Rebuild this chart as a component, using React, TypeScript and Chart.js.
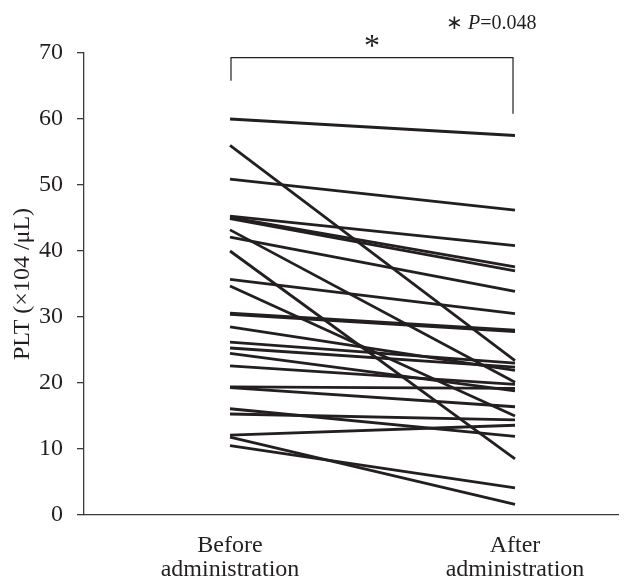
import React, { useEffect, useRef } from 'react';
import { Chart, registerables } from 'chart.js';

Chart.register(...registerables);

// ---- data ----
const groupLabels: string[][] = [
  ['Before', 'administration'],
  ['After', 'administration'],
];
const before: number[] = [
  60.0, 56.0, 50.9, 45.3, 45.1, 44.9, 43.2, 42.1, 40.0, 35.7, 34.7, 30.6, 30.4,
  28.5, 26.2, 25.3, 24.5, 22.6, 19.4, 19.3, 16.1, 15.3, 12.1, 11.8, 10.5,
];
const after: number[] = [
  57.5, 23.4, 46.2, 40.8, 37.6, 37.0, 20.1, 33.9, 8.5, 30.5, 15.0, 28.0, 27.8,
  21.9, 23.0, 22.4, 18.8, 19.8, 19.2, 16.4, 11.9, 14.4, 13.6, 1.6, 4.1,
];
const yTicks: number[] = [0, 10, 20, 30, 40, 50, 60, 70];
const yTitle = 'PLT (×104 /μL)';
const sigMark = '*';
const pLabel = 'P';
const pValue = '=0.048';

const FONT = "'Liberation Serif', 'Times New Roman', Times, serif";
const INK = '#231f20';
const AXIS = '#3a3a3a';

export default function App() {
  const ref = useRef<HTMLCanvasElement>(null);

  useEffect(() => {
    document.body.style.margin = '0';
    const canvas = ref.current;
    if (!canvas) return;

    const annot = {
      id: 'annot',
      afterDraw(chart: any) {
        const { ctx } = chart;
        const x = chart.scales.x;
        const y = chart.scales.y;
        const x0 = x.getPixelForValue(0) + 1;
        const x1 = x.getPixelForValue(1) - 2;
        const top = y.getPixelForValue(69.3);
        ctx.save();
        ctx.strokeStyle = INK;
        ctx.lineWidth = 1.2;
        ctx.beginPath();
        ctx.moveTo(x0, y.getPixelForValue(65.8));
        ctx.lineTo(x0, top);
        ctx.lineTo(x1, top);
        ctx.lineTo(x1, y.getPixelForValue(60.8));
        ctx.stroke();

        ctx.fillStyle = INK;
        ctx.textBaseline = 'alphabetic';
        ctx.textAlign = 'center';
        ctx.font = `32px ${FONT}`;
        ctx.fillText(sigMark, (x0 + x1) / 2, top - 2);

        // "* P=0.048"
        ctx.textAlign = 'left';
        const baseY = 29;
        let tx = 446;
        ctx.font = `20px ${FONT}`;
        ctx.fillText('∗', tx, baseY);
        tx += ctx.measureText('∗ ').width;
        ctx.font = `italic 20px ${FONT}`;
        ctx.fillText(pLabel, tx, baseY);
        tx += ctx.measureText(pLabel).width;
        ctx.font = `20px ${FONT}`;
        ctx.fillText(pValue, tx, baseY);
        ctx.restore();
      },
    };

    const datasets = before.map((b, i) => ({
      label: `case ${i + 1}`,
      data: [
        { x: 0, y: b },
        { x: 1, y: after[i] },
      ],
      borderColor: INK,
      backgroundColor: INK,
      borderWidth: 2.8,
      pointRadius: 0,
      fill: false,
      tension: 0,
    }));

    const chart = new Chart(canvas, {
      type: 'line',
      data: { datasets },
      plugins: [annot],
      options: {
        animation: false,
        responsive: false,
        maintainAspectRatio: false,
        layout: { padding: { top: 53, right: 14, left: 0, bottom: 0 } },
        plugins: {
          legend: { display: false },
          tooltip: { enabled: false },
        },
        scales: {
          x: {
            type: 'linear',
            min: -0.5123,
            max: 1.3614,
            afterBuildTicks: (s: any) => {
              s.ticks = [{ value: 0 }, { value: 1 }];
            },
            afterFit: (s: any) => {
              s.height = 63;
            },
            ticks: {
              autoSkip: false,
              maxRotation: 0,
              padding: 11,
              color: '#231f20',
              font: { family: FONT, size: 24, lineHeight: 1.0 },
              callback: (v: any) => (v === 0 ? groupLabels[0] : v === 1 ? groupLabels[1] : ''),
            },
            grid: { display: false },
            border: { display: true, color: AXIS, width: 1.3 },
          },
          y: {
            type: 'linear',
            min: 0,
            max: 70,
            afterBuildTicks: (s: any) => {
              s.ticks = yTicks.map((v) => ({ value: v }));
            },
            afterFit: (s: any) => {
              s.width = 84;
            },
            ticks: {
              padding: 14,
              color: '#231f20',
              font: { family: FONT, size: 24, lineHeight: 1.0 },
            },
            grid: {
              display: true,
              drawOnChartArea: false,
              drawTicks: true,
              tickLength: 7,
              color: AXIS,
              lineWidth: 1.3,
            },
            border: { display: true, color: AXIS, width: 1.3 },
            title: {
              display: true,
              text: yTitle,
              color: '#231f20',
              font: { family: FONT, size: 24, lineHeight: 1.0 },
              padding: { top: 11, bottom: 0 },
            },
          },
        },
      },
    } as any);

    return () => chart.destroy();
  }, []);

  return (
    <div style={{ position: 'absolute', left: 0, top: 0, width: 632, height: 578, background: '#fff' }}>
      <canvas ref={ref} width={632} height={578} style={{ width: 632, height: 578, display: 'block' }} />
    </div>
  );
}
